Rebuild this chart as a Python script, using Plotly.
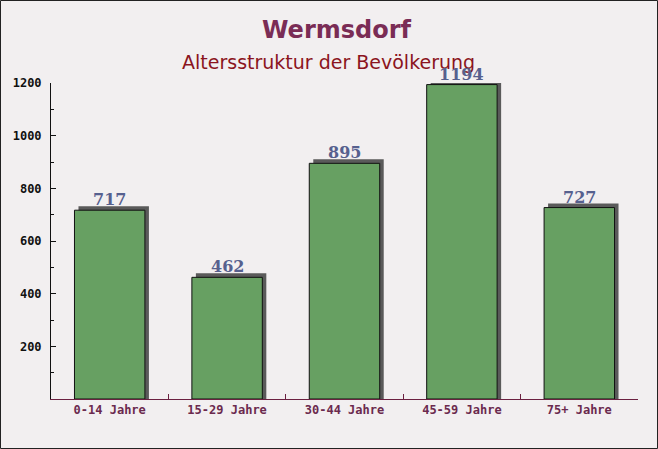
import plotly.graph_objects as go

categories = ["0-14 Jahre", "15-29 Jahre", "30-44 Jahre", "45-59 Jahre", "75+ Jahre"]
values = [717, 462, 895, 1194, 727]
y_ticks = [200, 400, 600, 800, 1000, 1200]
y_max = 1200

W, H = 658, 449
ml, mr, mt, mb = 51, 20, 83, 50
pw = W - ml - mr
ph = H - mt - mb
px_per_cat = pw / len(categories)
bw = 0.6
shadow_dx = 4 / px_per_cat
shadow_dy = 4 * y_max / ph

fig = go.Figure()
fig.add_trace(go.Bar(
    x=categories, y=[v + shadow_dy for v in values],
    width=bw, offset=-bw / 2 + shadow_dx,
    marker=dict(color="#5a5a5a", line=dict(width=0)),
    cliponaxis=False, hoverinfo="skip", showlegend=False,
))
fig.add_trace(go.Bar(
    x=categories, y=values,
    width=bw, offset=-bw / 2,
    marker=dict(color="#67a062", line=dict(color="#111111", width=1)),
    cliponaxis=False, showlegend=False,
))

annotations = [
    dict(text="<b>Wermsdorf</b>", xref="paper", yref="paper", x=(337 - ml) / pw, y=1 + (mt - 30) / ph,
         showarrow=False, font=dict(family="DejaVu Sans", size=24, color="#7a2c55"), yanchor="middle"),
    dict(text="Altersstruktur der Bevölkerung", xref="paper", yref="paper", x=(328 - ml) / pw, y=1 + (mt - 62) / ph,
         showarrow=False, font=dict(family="DejaVu Sans", size=19, color="#8b1420"), yanchor="middle"),
]
annotations += [
    dict(x=c, y=(v + shadow_dy) / y_max, xref="x", yref="paper", text=str(v), showarrow=False,
         yanchor="bottom", yshift=-5,
         font=dict(family="DejaVu Serif", size=16, color="#56608e", weight="bold"))
    for c, v in zip(categories, values)
]

fig.update_layout(
    width=W, height=H,
    margin=dict(l=ml, r=mr, t=mt, b=mb),
    barmode="overlay",
    paper_bgcolor="#f2eff0",
    plot_bgcolor="rgba(0,0,0,0)",
    annotations=annotations,
    shapes=[dict(type="rect", xref="paper", yref="paper",
                 x0=-(ml - 0.5) / pw, x1=1 + (mr - 0.5) / pw,
                 y0=-(mb - 0.5) / ph, y1=1 + (mt - 0.5) / ph,
                 line=dict(color="#222222", width=1), layer="below")],
)
fig.update_xaxes(
    showgrid=False, showline=True, linecolor="#6b2040", linewidth=1,
    ticks="inside", tickson="boundaries", ticklen=5, tickcolor="#6b2040",
    tickfont=dict(family="DejaVu Sans Mono", size=12, color="#6b2a4e", weight="bold"),
    range=[-0.5, 4.5],
)
fig.update_yaxes(
    range=[0, y_max], showgrid=False, zeroline=False, showline=True, linecolor="#111111", linewidth=1,
    tickvals=y_ticks, ticks="inside", ticklen=5, tickcolor="#111111",
    minor=dict(dtick=100, ticks="inside", ticklen=3, tickcolor="#111111"),
    ticklabelstandoff=6,
    tickfont=dict(family="DejaVu Sans Mono", size=12, color="#111111", weight="bold"),
)
fig.write_html("out.html", config={"displayModeBar": False},
               post_script="document.body.style.margin='0';")
